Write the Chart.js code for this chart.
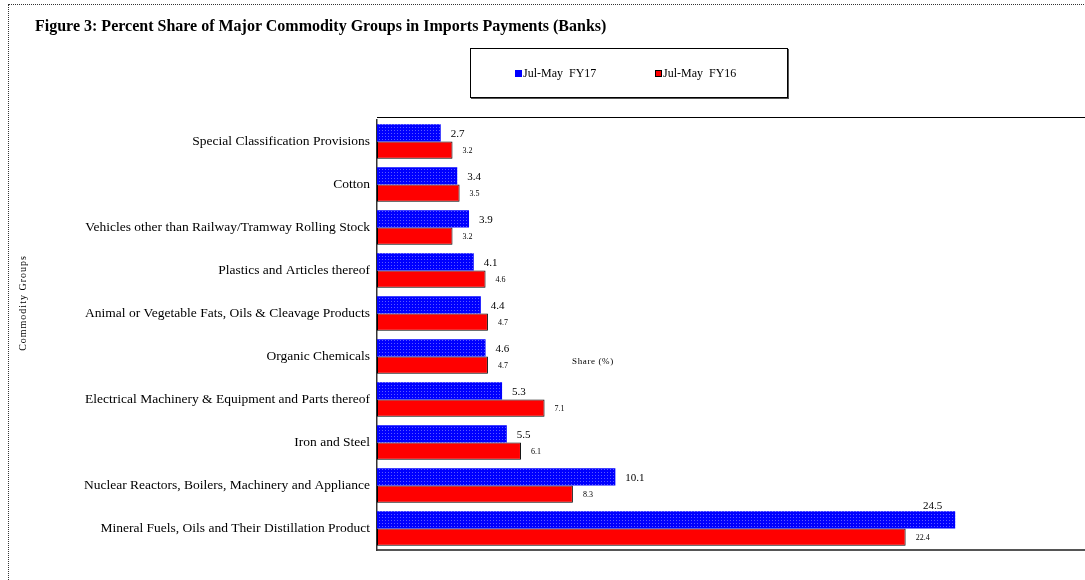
<!DOCTYPE html>
<html lang="en">
<head>
    <meta charset="UTF-8">
    <title>Figure 3</title>
    <script src="https://cdn.jsdelivr.net/npm/chart.js"></script>
    <style>
        html, body {
            margin: 0;
            padding: 0;
            background: #fff;
            overflow: hidden;
        }
        #frame {
            position: absolute;
            left: 8px;
            top: 4px;
            width: 1100px;
            height: 600px;
            border: 1px dotted #333;
        }
        #title {
            position: absolute;
            left: 35px;
            top: 17px;
            font: bold 16px "Liberation Serif", "Times New Roman", serif;
            color: #000;
            white-space: nowrap;
        }
        #legendBox {
            position: absolute;
            left: 470px;
            top: 48px;
            width: 316px;
            height: 48px;
            border: 1px solid #000;
            box-shadow: 1px 1px 0 #555;
            font: 12px "Liberation Serif", "Times New Roman", serif;
        }
        .item {
            position: absolute;
            top: 17px;
            white-space: pre;
        }
        .sw {
            display: inline-block;
            width: 7px;
            height: 7px;
            margin-right: 1px;
            vertical-align: 0px;
        }
        canvas {
            position: absolute;
            left: 0;
            top: 0;
        }
    </style>
</head>
<body>
<div id="frame"></div>
<canvas id="chart" width="1085" height="580"></canvas>
<div id="title">Figure 3: Percent Share of Major Commodity Groups in Imports Payments (Banks)</div>
<div id="legendBox">
    <div class="item" style="left:44px"><span class="sw" style="background:#0000ff"></span>Jul-May  FY17</div>
    <div class="item" style="left:184px"><span class="sw" style="background:#ff0000;outline:1px solid #000;outline-offset:-1px"></span>Jul-May  FY16</div>
</div>

<script>
    const categories = [
        'Special Classification Provisions',
        'Cotton',
        'Vehicles other than Railway/Tramway Rolling Stock',
        'Plastics and Articles thereof',
        'Animal or Vegetable Fats, Oils & Cleavage Products',
        'Organic Chemicals',
        'Electrical Machinery & Equipment and Parts thereof',
        'Iron and Steel',
        'Nuclear Reactors, Boilers, Machinery and Appliance',
        'Mineral Fuels, Oils and Their Distillation Product'
    ];
    const fy17 = [2.7, 3.4, 3.9, 4.1, 4.4, 4.6, 5.3, 5.5, 10.1, 24.5];
    const fy16 = [3.2, 3.5, 3.2, 4.6, 4.7, 4.7, 7.1, 6.1, 8.3, 22.4];
    const seriesNames = ['Jul-May  FY17', 'Jul-May  FY16'];

    const serif = '"Liberation Serif", "Times New Roman", serif';

    // blue bars have a fine dotted texture
    function bluePattern() {
        const c = document.createElement('canvas');
        c.width = 3;
        c.height = 3;
        const g = c.getContext('2d');
        g.fillStyle = '#0000ff';
        g.fillRect(0, 0, 3, 3);
        g.fillStyle = '#5a5aff';
        g.fillRect(1, 1, 1, 1);
        return g.createPattern(c, 'repeat');
    }

    // value labels, axis titles, frame line
    const extras = {
        id: 'extras',
        afterDatasetsDraw(chart) {
            const ctx = chart.ctx;
            const area = chart.chartArea;
            ctx.save();
            ctx.fillStyle = '#000';
            ctx.textBaseline = 'middle';
            chart.data.datasets.forEach((ds, di) => {
                const meta = chart.getDatasetMeta(di);
                ctx.font = (di === 0 ? '11px ' : '8px ') + serif;
                meta.data.forEach((bar, i) => {
                    const txt = ds.data[i].toFixed(1);
                    if (di === 0 && ds.data[i] > 20) {
                        ctx.textAlign = 'right';
                        ctx.fillText(txt, bar.x - 13, bar.y - 14);
                    } else {
                        ctx.textAlign = 'left';
                        ctx.fillText(txt, bar.x + 10, bar.y + 1);
                    }
                });
            });

            // top frame line of plot area
            ctx.strokeStyle = '#000';
            ctx.lineWidth = 1;
            ctx.beginPath();
            ctx.moveTo(area.left, area.top - 2.5);
            ctx.lineTo(area.right, area.top - 2.5);
            ctx.stroke();

            // x axis title, sitting inside the plot as in the source
            ctx.font = '9px ' + serif;
            ctx.letterSpacing = '0.6px';
            ctx.textAlign = 'center';
            ctx.fillText('Share (%)', area.left + area.width * 0.305, area.top + area.height * 0.562);

            // y axis title
            ctx.font = '10px ' + serif;
            ctx.letterSpacing = '1px';
            ctx.translate(23, (area.top + area.bottom) / 2 - 32);
            ctx.rotate(-Math.PI / 2);
            ctx.fillText('Commodity Groups', 0, 0);
            ctx.restore();
        }
    };

    const ctx = document.getElementById('chart').getContext('2d');
    new Chart(ctx, {
        type: 'bar',
        data: {
            labels: categories,
            datasets: [
                {
                    label: seriesNames[0],
                    data: fy17,
                    backgroundColor: bluePattern(),
                    borderWidth: 0,
                    categoryPercentage: 0.8,
                    barPercentage: 1.0
                },
                {
                    label: seriesNames[1],
                    data: fy16,
                    backgroundColor: '#ff0000',
                    borderColor: '#000',
                    borderWidth: 1,
                    borderSkipped: false,
                    categoryPercentage: 0.8,
                    barPercentage: 1.0
                }
            ]
        },
        options: {
            indexAxis: 'y',
            responsive: false,
            animation: false,
            layout: {
                padding: { left: 0, right: 0, top: 120, bottom: 30 }
            },
            plugins: {
                legend: { display: false },
                tooltip: { enabled: false }
            },
            scales: {
                x: {
                    min: 0,
                    max: 30,
                    grid: { display: false, drawTicks: false },
                    border: { display: true, color: '#555', width: 2 },
                    ticks: { display: false }
                },
                y: {
                    grid: { display: false, drawTicks: false },
                    border: { display: true, color: '#333', width: 1.5 },
                    ticks: {
                        color: '#000',
                        padding: 7,
                        font: { family: serif, size: 13.5 }
                    },
                    afterFit(scale) {
                        scale.width = 377;
                    }
                }
            }
        },
        plugins: [extras]
    });
</script>
</body>
</html>
